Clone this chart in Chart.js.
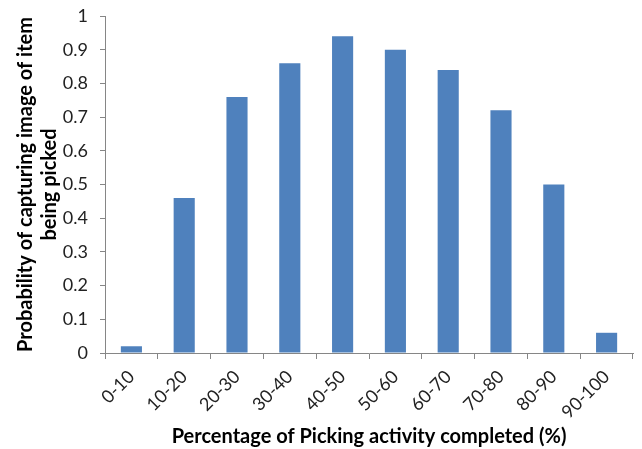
<!DOCTYPE html>
<html>
<head>
<meta charset="utf-8">
<script src="https://cdn.jsdelivr.net/npm/chart.js@4/dist/chart.umd.min.js"></script>
<style>
  html, body { margin: 0; padding: 0; background: #fff; }
  #wrap { width: 642px; height: 449px; }
</style>
</head>
<body>
<div id="wrap"><canvas id="c" width="642" height="449"></canvas></div>
<script>
const categories = ['0-10', '10-20', '20-30', '30-40', '40-50', '50-60', '60-70', '70-80', '80-90', '90-100'];
const probability = [0.02, 0.46, 0.76, 0.86, 0.94, 0.90, 0.84, 0.72, 0.50, 0.06];
const yTicks = [0, 0.1, 0.2, 0.3, 0.4, 0.5, 0.6, 0.7, 0.8, 0.9, 1];

const FONT = 'Lato, "Open Sans", sans-serif';
const axisColor = '#868686';

new Chart(document.getElementById('c'), {
  type: 'bar',
  data: {
    labels: categories,
    datasets: [{
      data: probability,
      backgroundColor: '#4F81BD',
      borderWidth: 0,
      categoryPercentage: 1.0,
      barPercentage: 0.4
    }]
  },
  options: {
    responsive: false,
    animation: false,
    devicePixelRatio: 1,
    layout: { padding: { left: 0, right: 9, top: 16, bottom: 0 } },
    plugins: { legend: { display: false }, tooltip: { enabled: false } },
    scales: {
      x: {
        grid: { display: true, drawOnChartArea: false, drawTicks: true, tickLength: 6, color: axisColor, offset: true },
        border: { color: axisColor, width: 1 },
        ticks: {
          color: '#222',
          font: { family: FONT, size: 18 },
          minRotation: 45, maxRotation: 45, padding: 7
        },
        title: {
          display: true,
          text: 'Percentage of Picking activity completed (%)',
          color: '#000',
          font: { family: FONT, size: 20, weight: 'bold' },
          padding: { top: 8, bottom: 0 }
        },
        afterFit(scale) { scale.height = 96; }
      },
      y: {
        min: 0, max: 1,
        afterBuildTicks(scale) { scale.ticks = yTicks.map(v => ({ value: v })); },
        grid: { display: true, drawOnChartArea: false, drawTicks: true, tickLength: 5, color: axisColor },
        border: { color: axisColor, width: 1 },
        ticks: {
          color: '#222',
          font: { family: FONT, size: 18 },
          padding: 12,
          callback: v => String(v)
        },
        title: {
          display: true,
          text: ['Probability of capturing image of item', 'being picked'],
          color: '#000',
          font: { family: FONT, size: 20, weight: 'bold', lineHeight: 1.2 },
          padding: { top: 14, bottom: 4 }
        },
        afterFit(scale) {
          scale.width = 105;
          scale.paddingTop = 0;
          scale.paddingBottom = 0;
        }
      }
    }
  }
});
</script>
</body>
</html>
